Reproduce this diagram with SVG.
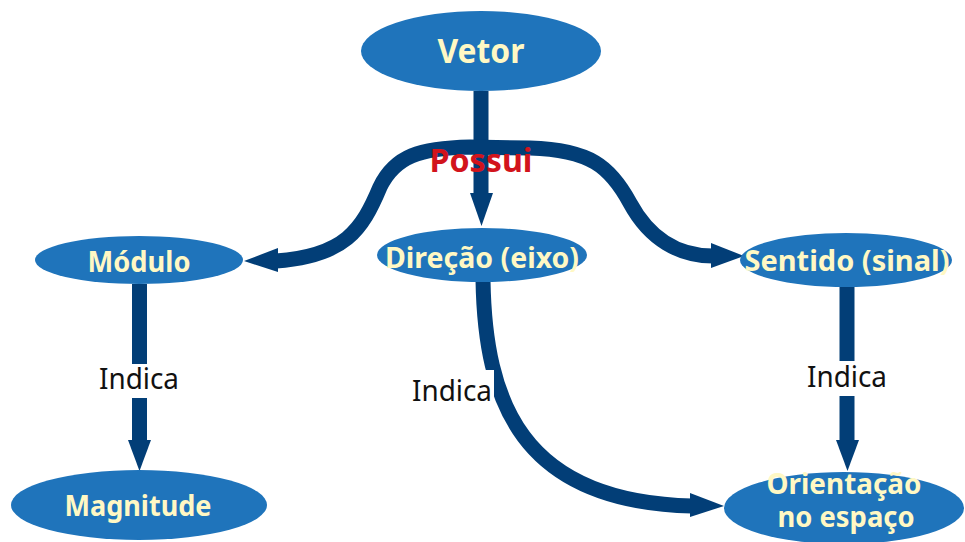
<svg xmlns="http://www.w3.org/2000/svg" width="965" height="542" viewBox="0 0 965 542">
<style>
.node{fill:#1F74BB}
.nt{font-family:"Noto Sans","Open Sans",sans-serif;font-weight:bold;fill:#FFF8C4;text-anchor:middle}
.line{fill:none;stroke:#023E77;stroke-width:15}
.head{fill:#023E77}
.lbl{font-family:"Noto Sans","Open Sans",sans-serif;font-size:29px;fill:#111;text-anchor:middle}
.bg{fill:#fff}
</style>
<rect width="965" height="542" fill="#fff"/>
<g id="connectors">
  <line class="line" x1="481" y1="91" x2="481" y2="195"/>
  <polygon class="head" points="470,193 493,193 481.5,226"/>
  <path class="line" d="M 276 261 C 345 256, 362 230, 380 187 C 395 156, 420 148, 470 147 L 530 148 C 590 150, 610 166, 630 203 C 650 240, 680 256, 713 256"/>
  <polygon class="head" points="278,248 278,272 244,261"/>
  <polygon class="head" points="711,243 711,268 744,256"/>
  <line class="line" x1="139.5" y1="284" x2="139.5" y2="442"/>
  <polygon class="head" points="128,440 151,440 139.5,471"/>
  <line class="line" x1="847" y1="287" x2="847" y2="442"/>
  <polygon class="head" points="836,440 859,440 847.5,471"/>
  <path class="line" d="M 483 280 C 485 400, 520 502, 692 506"/>
  <polygon class="head" points="690,493 690,517 724,506"/>
  <g id="label-modulo-indica"><rect class="bg" x="96" y="364" width="86" height="34"/><text class="lbl" x="139" y="389" textLength="80" lengthAdjust="spacingAndGlyphs">Indica</text></g>
  <g id="label-sentido-indica"><rect class="bg" x="804" y="361" width="86" height="35"/><text class="lbl" x="847" y="387" textLength="80" lengthAdjust="spacingAndGlyphs">Indica</text></g>
  <g id="label-direcao-indica"><rect class="bg" x="410" y="370" width="84" height="36"/><text class="lbl" x="452" y="401" textLength="80" lengthAdjust="spacingAndGlyphs">Indica</text></g>
  <text x="481" y="172" font-family="Noto Sans, Open Sans, sans-serif" font-weight="bold" font-size="33" fill="#D2141C" text-anchor="middle" textLength="103" lengthAdjust="spacingAndGlyphs">Possui</text>
</g>
<g id="node-vetor">
  <ellipse class="node" cx="481" cy="51" rx="120" ry="40"/>
  <text class="nt" x="481" y="63" font-size="34" textLength="87" lengthAdjust="spacingAndGlyphs">Vetor</text>
</g>
<g id="node-modulo">
  <ellipse class="node" cx="139" cy="260" rx="104" ry="24"/>
  <text class="nt" x="139" y="272" font-size="28" textLength="103" lengthAdjust="spacingAndGlyphs">Módulo</text>
</g>
<g id="node-direcao">
  <ellipse class="node" cx="482" cy="255" rx="105" ry="27"/>
  <text class="nt" x="482" y="268" font-size="28" textLength="194" lengthAdjust="spacingAndGlyphs">Direção (eixo)</text>
</g>
<g id="node-sentido">
  <ellipse class="node" cx="846" cy="260" rx="106" ry="27"/>
  <text class="nt" x="847" y="271" font-size="28" textLength="205" lengthAdjust="spacingAndGlyphs">Sentido (sinal)</text>
</g>
<g id="node-magnitude">
  <ellipse class="node" cx="139" cy="505" rx="128" ry="35"/>
  <text class="nt" x="138" y="516" font-size="29" textLength="147" lengthAdjust="spacingAndGlyphs">Magnitude</text>
</g>
<g id="node-orientacao">
  <ellipse class="node" cx="844" cy="508" rx="120" ry="36"/>
  <text class="nt" x="844" y="494" font-size="28" textLength="155" lengthAdjust="spacingAndGlyphs">Orientação</text>
  <text class="nt" x="846" y="527" font-size="28" textLength="137" lengthAdjust="spacingAndGlyphs">no espaço</text>
</g>
</svg>
